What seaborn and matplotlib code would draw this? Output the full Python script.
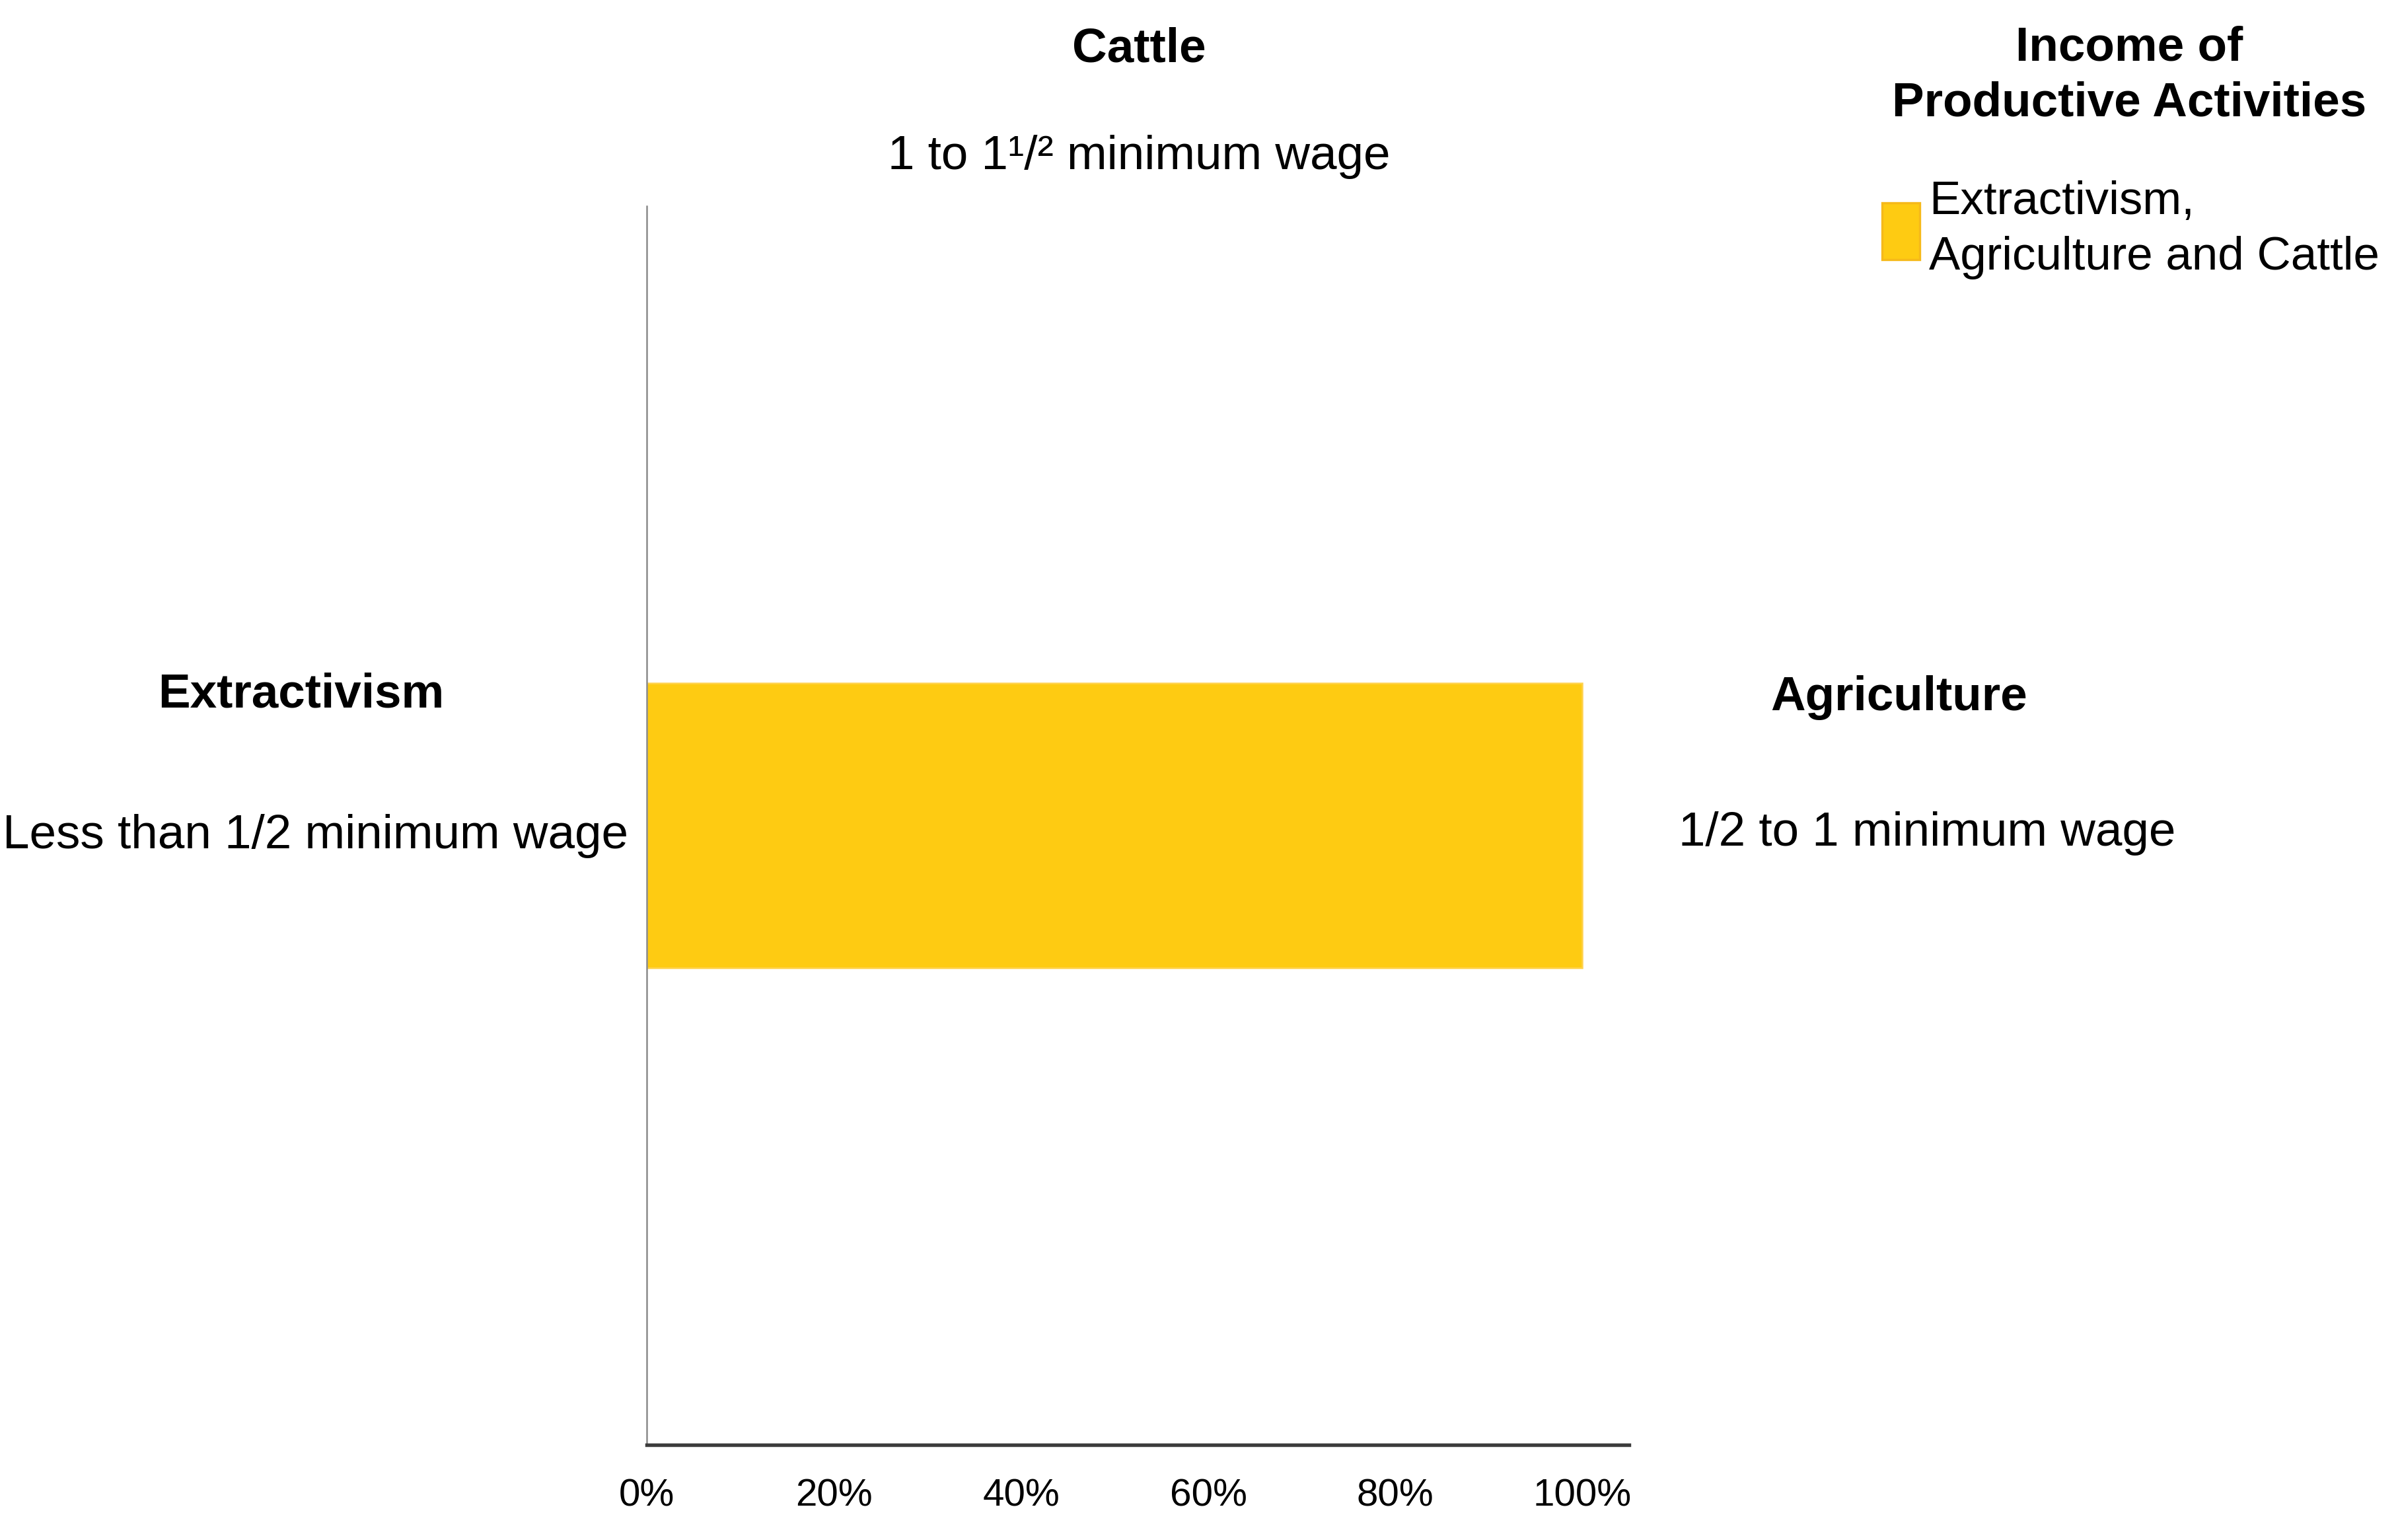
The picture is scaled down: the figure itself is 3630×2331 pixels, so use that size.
import matplotlib
matplotlib.use("Agg")
import matplotlib.pyplot as plt
import seaborn as sns
import pandas as pd
from matplotlib import font_manager
from matplotlib.patches import Patch

# Data
activities = ["Cattle", "Extractivism", "Agriculture"]
incomes = ["1 to 1\u00b9/\u00b2 minimum wage", "Less than 1/2 minimum wage", "1/2 to 1 minimum wage"]
series = ["Extractivism,\nAgriculture and Cattle"]
share = [100]
x_ticks = [0, 20, 40, 60, 80, 100]
x_tick_labels = ["0%", "20%", "40%", "60%", "80%", "100%"]
legend_title = "Income of\nProductive Activities"

bar_color = "#FECB12"

sns.set_style("white")
installed = {f.name for f in font_manager.fontManager.ttflist}
base_font = "Liberation Sans Narrow" if "Liberation Sans Narrow" in installed else "Liberation Sans"
plt.rcParams["font.family"] = [base_font, "DejaVu Sans"]
plt.rcParams["text.color"] = "black"
plt.rcParams["xtick.color"] = "black"

df = pd.DataFrame({"group": series, "share": share})

fig = plt.figure(figsize=(12.1, 7.77), dpi=300)
ax = fig.add_axes([0.2698, 0.0616, 0.4096, 0.8044])

sns.barplot(data=df, x="share", y="group", orient="h", color=bar_color,
            width=0.8, saturation=1, ax=ax, edgecolor="#FFD24D", linewidth=0.6)

ax.set_xlim(0, 105)
ax.set_ylim(1.74, -1.74)
ax.set_xticks(x_ticks)
ax.set_xticklabels(x_tick_labels, fontsize=14)
ax.set_yticks([])
ax.set_xlabel("")
ax.set_ylabel("")
ax.tick_params(axis="x", length=0, pad=12)

for side in ["top", "right"]:
    ax.spines[side].set_visible(False)
ax.spines["left"].set_color("#8a8a8a")
ax.spines["left"].set_linewidth(0.6)
ax.spines["bottom"].set_color("#3c3c3c")
ax.spines["bottom"].set_linewidth(1.3)

reg = 17.5
bold = 17.5

# Quadrant labels: activity names (bold) and income class
fig.text(0.475, 0.968, activities[0], ha="center", va="center", fontsize=bold, fontweight="bold")
fig.text(0.475, 0.898, incomes[0], ha="center", va="center", fontsize=reg)
fig.text(0.1256, 0.549, activities[1], ha="center", va="center", fontsize=bold, fontweight="bold")
fig.text(0.262, 0.457, incomes[1], ha="right", va="center", fontsize=reg)
fig.text(0.792, 0.547, activities[2], ha="center", va="center", fontsize=bold, fontweight="bold")
fig.text(0.8036, 0.459, incomes[2], ha="center", va="center", fontsize=reg)

# Legend
fig.text(0.888, 0.951, legend_title, ha="center", va="center", fontsize=bold,
         fontweight="bold", linespacing=1.3)
handles = [Patch(facecolor=bar_color, edgecolor="#F6B91A", linewidth=0.8)]
leg = fig.legend(handles, series, loc="upper left", bbox_to_anchor=(0.777, 0.895),
                 frameon=False, fontsize=17, handlelength=0.8, handleheight=1.5,
                 handletextpad=0.2, borderaxespad=0, labelspacing=0.2)
for t in leg.get_texts():
    t.set_linespacing(1.35)

plt.savefig("out.png", dpi=300)
plt.close()
